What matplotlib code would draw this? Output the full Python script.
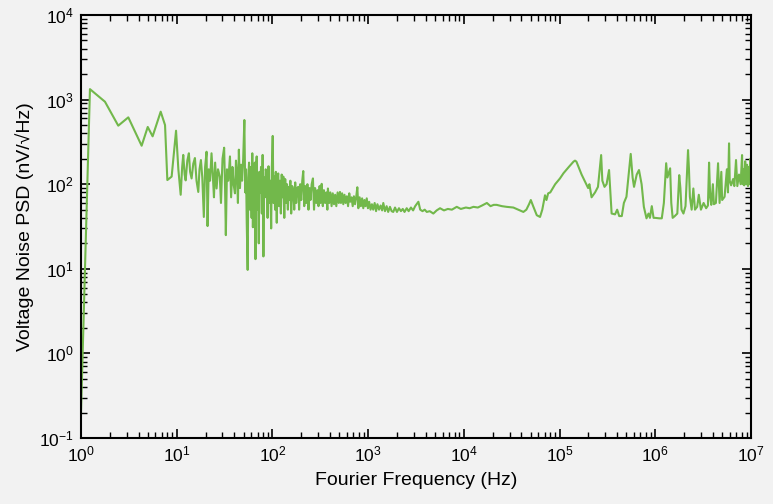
import matplotlib
matplotlib.use("Agg")
from matplotlib import pyplot as plt
from matplotlib.ticker import LogLocator, NullFormatter

# Voltage noise PSD, split by frequency band
freq_low = [1.0, 1.24, 1.78, 2.45, 3.12, 4.3, 4.98, 5.6, 6.8, 7.55, 7.98, 8.85, 9.84]
psd_low = [0.2, 1330, 944, 492, 617, 285, 475, 368, 720, 500, 112, 123, 429]

freq_mid1 = [10.4, 11.0, 11.4, 11.7, 12.1, 12.4, 12.9, 13.4, 13.8, 14.3, 14.9, 15.5,
             16.1, 16.8, 17.3, 17.9, 18.5, 19.2, 19.8, 20.5, 21.0, 21.6, 22.3, 23.1,
             23.8, 24.5, 25.2, 26.1, 27.0, 28.2, 29.0, 30.1, 31.3, 32.0, 32.6, 33.5,
             34.6, 36.0, 37.0, 38.2, 39.3, 40.6, 41.6, 42.8, 43.6, 44.6, 45.8, 47.0,
             48.2, 49.5, 50.9, 52.0, 53.0, 53.9, 55.1, 56.0, 57.0, 58.2, 59.5, 60.6,
             61.6, 62.5, 63.5, 64.5, 65.5, 66.5, 67.5, 68.5, 69.5, 70.5, 72.0, 73.0,
             74.5, 76.0, 77.5, 79.0, 80.5, 82.0, 83.5, 85.0, 87.0, 89.0, 91.0, 93.0,
             95.0, 97.0, 98.5]
psd_mid1 = [150, 75, 160, 222, 130, 111, 190, 232, 140, 117, 175, 204,
            110, 81, 150, 193, 120, 41, 160, 242, 32, 150, 110, 232,
            130, 70, 180, 89, 150, 123, 60, 200, 270, 90, 25, 150,
            110, 213, 70, 160, 100, 78, 190, 120, 60, 256, 90, 170,
            110, 200, 574, 80, 150, 35, 9.7, 120, 180, 50, 160, 40,
            232, 31, 140, 60, 180, 13, 150, 213, 50, 120, 20, 140,
            80, 160, 45, 222, 14, 120, 70, 150, 134, 40, 163, 60,
            110, 30, 150]

freq_mid2 = [100.7, 102.5, 104.5, 106.5, 108.5, 111, 113, 115, 117.5, 120, 122.5, 125,
             128, 130, 133, 136, 139, 142, 145, 147, 150, 154, 157, 161, 165, 169,
             173, 177, 181, 186, 190, 195, 200, 205, 210, 215, 220, 226, 232, 238,
             244, 250, 257, 265, 272, 279, 287, 295, 303, 311, 319, 327, 336, 345,
             355, 365, 375, 380, 392, 403, 415, 427, 440, 452, 465, 480, 494, 508,
             520, 535, 550, 566, 582, 600, 617, 635, 650, 670, 690, 710, 730, 750,
             771, 790, 815, 840, 865, 890, 915, 940, 967, 995, 1025, 1060, 1095,
             1130, 1170, 1210, 1250, 1300, 1350, 1400, 1440, 1500, 1560, 1620, 1690,
             1760, 1830, 1910, 2000, 2100, 2200, 2300, 2400, 2530, 2650, 2800, 2950]
psd_mid2 = [372, 60, 123, 50, 140, 35, 120, 134, 55, 110, 45, 130,
            70, 123, 40, 115, 60, 100, 50, 93, 65, 110, 45, 95, 85, 50,
            105, 60, 90, 93, 50, 100, 65, 110, 143, 55, 95, 60, 100, 50,
            90, 65, 100, 117, 50, 90, 60, 85, 55, 95, 60, 101, 55, 85,
            60, 80, 50, 89, 60, 80, 55, 78, 58, 75, 55, 80, 60, 81,
            60, 78, 58, 75, 60, 72, 55, 78, 62, 70, 55, 72, 58, 70,
            92, 52, 70, 55, 68, 52, 65, 55, 68, 52, 62, 50, 58,
            50, 60, 48, 58, 50, 56, 49, 60, 48, 55, 47, 54,
            48, 47, 53, 47, 52, 48, 51, 47, 52, 48, 53, 49]

freq_flat = [3100, 3350, 3500, 3700, 3900, 4100, 4400, 4800, 5200, 5640, 6200, 6800,
             7500, 8430, 9300, 10500, 11500, 12600, 14000, 15500, 17400, 19000,
             20500, 22000, 25000, 28000, 32900, 37000, 41900, 45000, 48000, 50100,
             53000, 57800, 62500, 66000]
psd_flat = [55, 62, 50, 48, 50, 47, 48, 45, 49, 52, 49, 51,
            50, 54, 51, 53, 52, 54, 53, 56, 60, 55,
            57, 57, 55, 54, 53, 50, 47, 50, 58, 65,
            55, 43, 41, 50]

freq_high = [70500, 73000, 76000, 80000, 90000, 101000, 110000, 125000, 140000, 145000,
             150000, 170000, 199000, 205000, 216000, 235000, 252000, 272000, 280000,
             295000, 310000, 329000, 340000, 350000, 380000, 400000, 420000, 447000,
             470000, 500000, 554000, 580000, 600000, 640000, 676000, 720000, 760000,
             810000, 850000, 880000, 920000, 960000, 1.0e6, 1.1e6, 1.17e6, 1.23e6,
             1.30e6, 1.34e6, 1.43e6, 1.47e6, 1.52e6, 1.6e6, 1.7e6, 1.78e6, 1.83e6,
             1.88e6, 1.97e6, 2.07e6, 2.2e6, 2.25e6, 2.3e6, 2.4e6, 2.5e6, 2.6e6,
             2.74e6, 2.85e6, 3.0e6, 3.2e6, 3.4e6, 3.55e6, 3.65e6, 3.75e6, 3.85e6,
             4.0e6, 4.1e6, 4.3e6, 4.53e6, 4.7e6, 4.9e6, 5.0e6, 5.3e6, 5.6e6, 5.75e6,
             5.9e6, 6.0e6, 6.2e6, 6.5e6, 6.7e6, 6.98e6, 7.2e6, 7.5e6, 7.8e6, 8.07e6,
             8.2e6, 8.35e6, 8.5e6, 8.7e6, 8.9e6, 9.1e6, 9.3e6, 9.5e6, 9.7e6, 9.85e6, 1.0e7]
psd_high = [74, 65, 78, 80, 100, 117, 135, 160, 185, 190,
            185, 130, 90, 100, 70, 80, 93, 221, 110,
            93, 100, 147, 80, 45, 44, 50, 42, 42,
            60, 71, 228, 120, 93, 130, 147, 100, 54,
            39.5, 45, 40, 55, 40, 40, 39.5, 39.5, 60,
            177, 120, 154, 60, 40, 42, 45, 128, 90,
            50, 45, 55, 253, 150, 71, 50, 89, 50,
            54, 75, 50, 60, 52, 56, 180, 70, 57,
            100, 58, 60, 177, 60, 140, 65, 71, 150, 80,
            304, 110, 97, 115, 95, 193, 95, 130, 100, 221,
            100, 150, 97, 187, 100, 170, 95, 160, 100, 200, 150]

freq = freq_low + freq_mid1 + freq_mid2 + freq_flat + freq_high
psd = psd_low + psd_mid1 + psd_mid2 + psd_flat + psd_high

plt.rcParams['font.family'] = ['Liberation Sans', 'DejaVu Sans']
plt.rcParams['mathtext.default'] = 'regular'

bg = '#f2f2f2'
fig = plt.figure(figsize=(7.73, 5.04), dpi=100, facecolor=bg)
ax = fig.add_axes([0.1048, 0.131, 0.8667, 0.8392], facecolor=bg)

ax.plot(freq, psd, color='#72b84b', linewidth=1.5)

ax.set_xscale('log')
ax.set_yscale('log')
ax.set_xlim(1, 1e7)
ax.set_ylim(0.1, 1e4)

# log ticks on every side, pointing in
ax.xaxis.set_major_locator(LogLocator(base=10, numticks=20))
ax.yaxis.set_major_locator(LogLocator(base=10, numticks=20))
ax.xaxis.set_minor_locator(LogLocator(base=10, subs=range(2, 10), numticks=20))
ax.yaxis.set_minor_locator(LogLocator(base=10, subs=range(2, 10), numticks=20))
ax.xaxis.set_minor_formatter(NullFormatter())
ax.yaxis.set_minor_formatter(NullFormatter())
ax.tick_params(which='both', direction='in', top=True, right=True, color='black')
ax.tick_params(which='major', length=6.5, width=1.2, labelsize=12.5, pad=5)
ax.tick_params(which='minor', length=4, width=1.0)

for s in ax.spines.values():
    s.set_linewidth(1.5)
    s.set_color('black')

ax.set_xlabel('Fourier Frequency (Hz)', fontsize=14, labelpad=5)
ax.set_ylabel('Voltage Noise PSD (nV/\u221aHz)', fontsize=14, labelpad=4)

plt.savefig('out.png', dpi=100, facecolor=bg)
